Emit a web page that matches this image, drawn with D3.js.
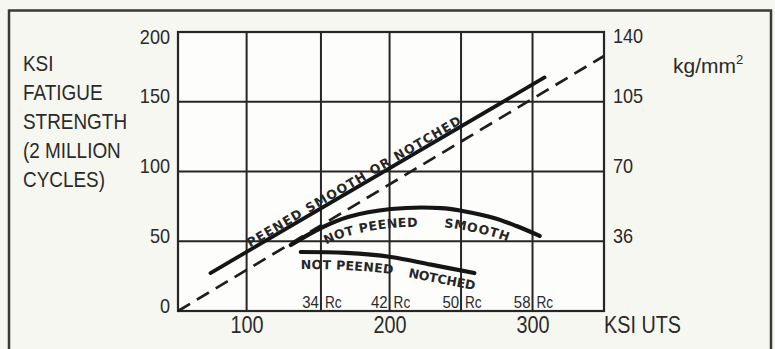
<!DOCTYPE html>
<html><head><meta charset="utf-8">
<script src="https://cdn.jsdelivr.net/npm/d3@7"></script>
<style>
html,body{margin:0;padding:0;background:#f7f7f1;}
svg{display:block;}
</style></head><body>
<svg id="chart" width="775" height="349"></svg>
<script>
// ---------- data ----------
const titleLines = ["KSI", "FATIGUE", "STRENGTH", "(2 MILLION", "CYCLES)"];
const leftTickValues = [0, 50, 100, 150, 200];
const rightTickValues = [50, 100, 150, 200];
const rightTickLabels = ["36", "70", "105", "140"];
const bottomTickValues = [100, 200, 300];
const xGridValues = [100, 152, 200, 250, 300];
const rcGridValues = [152, 200, 250, 300];
const rcLabels = ["34", "42", "50", "58"];
const xAxisTitle = "KSI UTS";
const rightUnit = "kg/mm";
const rightUnitSup = "2";

// series (x = KSI UTS, y = KSI fatigue strength)
const peenedSmoothOrNotched = [[74.7, 27.2], [308.4, 167.4]];
const dashedReference = [[52, 0], [350, 182.8]];
const notPeenedSmooth = [[130.9, 47.3], [152, 59.5], [170.9, 67.4], [201, 73.1], [236, 73.8], [251, 71.7], [273, 66.7], [288.8, 60.9], [305, 53.8]];
const notPeenedNotched = [[137.9, 42.3], [169.5, 41.6], [201, 38.7], [229, 33.2], [259.3, 27.2]];

const curveLabelTexts = ["PEENED SMOOTH OR NOTCHED", "NOT PEENED", "SMOOTH", "NOT PEENED", "NOTCHED"];

// ---------- layout ----------
const svg = d3.select("#chart");
const L = 178, R = 604, T = 32, B = 311;
const x = d3.scaleLinear().domain([52, 350]).range([L, R]);
const y = d3.scaleLinear().domain([0, 200]).range([B, T]);
const ink = "#262626";
const txt = "#2a2a2a";
const FONT = "'Liberation Sans', Arial, sans-serif";

function condense(sel, f) {
  sel.each(function () {
    const n = this.getComputedTextLength();
    d3.select(this).attr("textLength", n * f).attr("lengthAdjust", "spacingAndGlyphs");
  });
}

// outer frame
svg.append("rect").attr("x", 0).attr("y", 0).attr("width", 775).attr("height", 349).attr("fill", "#f7f7f1");
svg.append("path").attr("d", "M9,349 V10.5 H771 V349").attr("fill", "none").attr("stroke", "#3a3a3a").attr("stroke-width", 2.5);

// plot background
svg.append("rect").attr("x", L).attr("y", T).attr("width", R - L).attr("height", B - T).attr("fill", "#fdfdfb");

// grid
const g = svg.append("g");
g.selectAll("line.h").data(leftTickValues.filter(v => v > 0 && v < 200)).join("line")
  .attr("x1", L).attr("x2", R).attr("y1", d => y(d)).attr("y2", d => y(d))
  .attr("stroke", ink).attr("stroke-width", 2);
g.selectAll("line.v").data(xGridValues).join("line")
  .attr("y1", T).attr("y2", B).attr("x1", d => x(d)).attr("x2", d => x(d))
  .attr("stroke", ink).attr("stroke-width", 2);
g.append("rect").attr("x", L).attr("y", T).attr("width", R - L).attr("height", B - T)
  .attr("fill", "none").attr("stroke", ink).attr("stroke-width", 2.2);

// axes (labels only)
const axL = svg.append("g").attr("transform", `translate(${L},0)`)
  .call(d3.axisLeft(y).tickValues(leftTickValues).tickSize(0).tickPadding(8));
const axR = svg.append("g").attr("transform", `translate(${R},0)`)
  .call(d3.axisRight(y).tickValues(rightTickValues).tickFormat((d, i) => rightTickLabels[i]).tickSize(0).tickPadding(9));
const axB = svg.append("g").attr("transform", `translate(0,${B})`)
  .call(d3.axisBottom(x).tickValues(bottomTickValues).tickSize(0).tickPadding(0));
[axL, axR, axB].forEach(a => {
  a.select(".domain").remove();
  a.selectAll("text").attr("fill", txt).attr("font-family", FONT).attr("font-size", 21);
});
axL.selectAll("text").attr("dy", null).attr("y", d => (d === 200 ? 11 : 1));
axR.selectAll("text").attr("dy", null).attr("y", d => (d === 200 ? 10 : 1));
axB.selectAll("text").attr("dy", null).attr("y", 22).attr("font-size", 23);
condense(axL.selectAll("text"), 0.86);
condense(axR.selectAll("text"), 0.86);
condense(axB.selectAll("text"), 0.86);

// x axis title
const xt = svg.append("text").attr("x", 604).attr("y", 333).attr("fill", txt)
  .attr("font-family", FONT).attr("font-size", 23).text(xAxisTitle);
condense(xt, 0.86);

// right unit
const ut = svg.append("text").attr("x", 673).attr("y", 73).attr("fill", txt)
  .attr("font-family", FONT).attr("font-size", 21);
ut.append("tspan").text(rightUnit);
ut.append("tspan").attr("dy", -9).attr("font-size", 13).text(rightUnitSup);

// left title
const tt = svg.append("g");
tt.selectAll("text").data(titleLines).join("text")
  .attr("x", 23).attr("y", (d, i) => 71 + i * 29)
  .attr("fill", txt).attr("font-family", FONT).attr("font-size", 22).text(d => d);
condense(tt.selectAll("text"), 0.86);

// Rc labels
const rc = svg.append("g");
rcGridValues.forEach((v, i) => {
  const a = rc.append("text").attr("x", x(v) - 2).attr("y", 308).attr("text-anchor", "end")
    .attr("fill", txt).attr("font-family", FONT).attr("font-size", 17).text(rcLabels[i]);
  const b = rc.append("text").attr("x", x(v) + 4).attr("y", 308)
    .attr("fill", txt).attr("font-family", FONT).attr("font-size", 17).text("Rc");
  condense(a, 0.88); condense(b, 0.8);
});

// series
const lineGen = d3.line().x(d => x(d[0])).y(d => y(d[1]));
const curveGen = d3.line().x(d => x(d[0])).y(d => y(d[1])).curve(d3.curveCatmullRom.alpha(0.5));

svg.append("path").datum(dashedReference).attr("d", lineGen)
  .attr("fill", "none").attr("stroke", "#1e1e1e").attr("stroke-width", 2.7).attr("stroke-dasharray", "14,8");
svg.append("path").datum(peenedSmoothOrNotched).attr("d", lineGen)
  .attr("fill", "none").attr("stroke", "#151515").attr("stroke-width", 3.8).attr("stroke-linecap", "round");
svg.append("path").datum(notPeenedSmooth).attr("d", curveGen)
  .attr("fill", "none").attr("stroke", "#151515").attr("stroke-width", 4.2).attr("stroke-linecap", "round");
svg.append("path").datum(notPeenedNotched).attr("d", curveGen)
  .attr("fill", "none").attr("stroke", "#151515").attr("stroke-width", 4.2).attr("stroke-linecap", "round");

// label guide paths (offset from series)
const defs = svg.append("defs");
function guide(id, data, gen, dy) {
  const gg = gen === "line" ? d3.line() : d3.line().curve(d3.curveCatmullRom.alpha(0.5));
  gg.x(d => x(d[0])).y(d => y(d[1]) + dy);
  return defs.append("path").attr("id", id).attr("d", gg(data)).node();
}
const gPeened = guide("gPeened", peenedSmoothOrNotched, "line", -2.5);
const gSmooth = guide("gSmooth", notPeenedSmooth, "curve", 19);
const gNotched = guide("gNotched", notPeenedNotched, "curve", 17);

function lengthAtX(node, px) {
  let lo = 0, hi = node.getTotalLength();
  for (let k = 0; k < 40; k++) {
    const mid = (lo + hi) / 2;
    if (node.getPointAtLength(mid).x < px) lo = mid; else hi = mid;
  }
  return lo;
}
function pathLabel(node, id, text, x0, x1, size) {
  const s0 = lengthAtX(node, x0), s1 = lengthAtX(node, x1);
  const t = svg.append("text").attr("fill", "#262626").attr("font-family", "'DejaVu Sans', sans-serif")
    .attr("font-weight", "bold").attr("font-size", size);
  t.append("textPath").attr("href", "#" + id).attr("startOffset", s0).text(text);
  const n = t.node().getComputedTextLength();
  const ls = (s1 - s0 - n) / text.length;
  t.attr("letter-spacing", ls);
}
pathLabel(gPeened, "gPeened", curveLabelTexts[0], 250, 463, 12.5);
pathLabel(gSmooth, "gSmooth", curveLabelTexts[1], 326, 418, 12.5);
pathLabel(gSmooth, "gSmooth", curveLabelTexts[2], 444, 508, 12.5);
pathLabel(gNotched, "gNotched", curveLabelTexts[3], 297, 393, 12.5);
pathLabel(gNotched, "gNotched", curveLabelTexts[4], 408, 478, 12.5);
</script>
</body></html>
